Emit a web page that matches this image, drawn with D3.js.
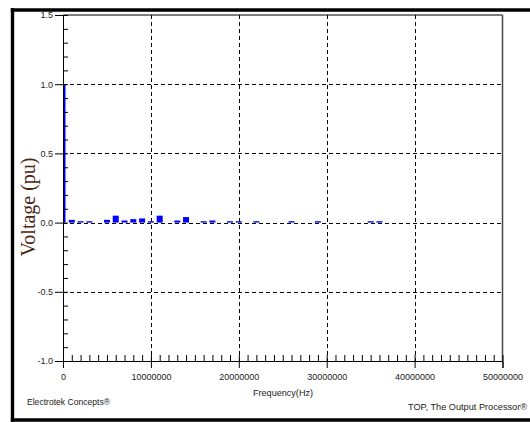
<!DOCTYPE html>
<html>
<head>
<meta charset="utf-8">
<script src="https://cdn.jsdelivr.net/npm/d3@7"></script>
<style>
  html, body { margin: 0; padding: 0; background: #fff; }
  svg { display: block; }
</style>
</head>
<body>
<svg id="chart" width="530" height="422"></svg>
<script>
// ---- data ----
const fundamentalFreq = [0];          // Hz
const fundamentalValue = [1.0];       // pu
const harmonicFreqs = [1e6, 2e6, 3e6, 5e6, 6e6, 7e6, 8e6, 9e6, 10e6, 11e6, 13e6, 14e6, 16e6, 17e6, 19e6, 20e6, 22e6, 26e6, 29e6, 35e6, 36e6];
const harmonicValues = [0.02, 0.01, 0.01, 0.02, 0.05, 0.015, 0.025, 0.03, 0.01, 0.05, 0.015, 0.04, 0.01, 0.015, 0.01, 0.01, 0.01, 0.01, 0.01, 0.01, 0.01];
const yTicks = [-1.0, -0.5, 0.0, 0.5, 1.0, 1.5];
const xTicks = [0, 10000000, 20000000, 30000000, 40000000, 50000000];
const xLabel = "Frequency(Hz)";
const yLabel = "Voltage (pu)";
const footLeft = "Electrotek Concepts®";
const footRight = "TOP, The Output Processor®";

const SANS = "'Liberation Sans', Arial, sans-serif";
const SERIF = "'Liberation Serif', 'Times New Roman', serif";

const svg = d3.select("#chart");
const x = d3.scaleLinear().domain([0, 50000000]).range([63, 502.5]);
const y = d3.scaleLinear().domain([-1, 1.5]).range([361, 15]);

// outer frame
const frame = svg.append("g").attr("stroke", "#000").attr("stroke-width", 3.4).attr("fill", "none");
frame.append("line").attr("x1", 12.5).attr("x2", 12.5).attr("y1", 8.3).attr("y2", 421.7);
frame.append("line").attr("x1", 10.8).attr("x2", 530).attr("y1", 10).attr("y2", 10);
frame.append("line").attr("x1", 10.8).attr("x2", 530).attr("y1", 420).attr("y2", 420);

// grid
const grid = svg.append("g").attr("stroke", "#000").attr("stroke-width", 1).attr("stroke-dasharray", "4,3");
grid.selectAll("line.v").data(xTicks.slice(1, -1)).join("line")
  .attr("x1", d => Math.round(x(d)) + 0.5).attr("x2", d => Math.round(x(d)) + 0.5)
  .attr("y1", y(1.5)).attr("y2", y(-1));
grid.selectAll("line.h").data(yTicks.slice(1, -1)).join("line")
  .attr("x1", x(0)).attr("x2", x(50000000))
  .attr("y1", d => Math.round(y(d)) + 0.5).attr("y2", d => Math.round(y(d)) + 0.5);

// top and right border
svg.append("line").attr("x1", x(0)).attr("x2", x(50000000)).attr("y1", y(1.5)).attr("y2", y(1.5))
  .attr("stroke", "#000").attr("stroke-width", 1.2);
svg.append("line").attr("x1", x(50000000)).attr("x2", x(50000000)).attr("y1", y(1.5)).attr("y2", y(-1))
  .attr("stroke", "#444").attr("stroke-width", 1.5);

// bars
svg.append("g").attr("fill", "#0000ff").selectAll("rect").data(harmonicFreqs).join("rect")
  .attr("x", (d) => x(d) - 3)
  .attr("width", 6)
  .attr("y", (d, i) => y(harmonicValues[i]))
  .attr("height", (d, i) => y(0) - y(harmonicValues[i]));
svg.append("g").attr("fill", "#0000ff").selectAll("rect").data(fundamentalFreq).join("rect")
  .attr("x", d => x(d))
  .attr("width", 2.5)
  .attr("y", (d, i) => y(fundamentalValue[i]))
  .attr("height", (d, i) => y(0) - y(fundamentalValue[i]));

// y axis
const yMinor = d3.range(-10, 16).map(v => v / 10);
svg.append("g").attr("transform", `translate(${x(0)},0)`)
  .call(d3.axisLeft(y).tickValues(yMinor).tickSize(-5).tickFormat(""))
  .call(g => g.select(".domain").remove());
const yAx = svg.append("g").attr("transform", `translate(${x(0)},0)`)
  .call(d3.axisLeft(y).tickValues(yTicks).tickSize(8).tickPadding(2).tickFormat(d => d.toFixed(1)));
yAx.selectAll("text").style("font-size", "9px").style("font-family", SANS).attr("fill", "#222");
yAx.select(".domain").attr("stroke", "#000");

// x axis
const xMinor = d3.range(0, 51).map(v => v * 1000000);
svg.append("g").attr("transform", `translate(0,${y(-1)})`)
  .call(d3.axisBottom(x).tickValues(xMinor).tickSize(-6).tickFormat(""))
  .call(g => g.select(".domain").remove());
const xAx = svg.append("g").attr("transform", `translate(0,${y(-1)})`)
  .call(d3.axisBottom(x).tickValues(xTicks).tickSize(7).tickPadding(6).tickFormat(d => String(d)));
xAx.selectAll("text").style("font-size", "9px").style("font-family", SANS).attr("fill", "#222");
xAx.select(".domain").attr("stroke", "#000");

// axis titles
svg.append("text").attr("x", 283).attr("y", 396).attr("text-anchor", "middle")
  .style("font-size", "9px").style("font-family", SANS).attr("fill", "#222")
  .attr("textLength", 60).attr("lengthAdjust", "spacingAndGlyphs")
  .text(xLabel);
svg.append("text").attr("transform", "translate(35,207) rotate(-90)").attr("text-anchor", "middle")
  .style("font-family", SERIF).style("font-size", "20px")
  .attr("fill", "#4a2511").text(yLabel);

// footers
svg.append("text").attr("x", 27).attr("y", 405).style("font-size", "9px").style("font-family", SANS).attr("fill", "#222")
  .attr("textLength", 83).attr("lengthAdjust", "spacingAndGlyphs").text(footLeft);
svg.append("text").attr("x", 527).attr("y", 410).attr("text-anchor", "end").style("font-size", "9px").style("font-family", SANS).attr("fill", "#222")
  .attr("textLength", 119).attr("lengthAdjust", "spacingAndGlyphs").text(footRight);
</script>
</body>
</html>
